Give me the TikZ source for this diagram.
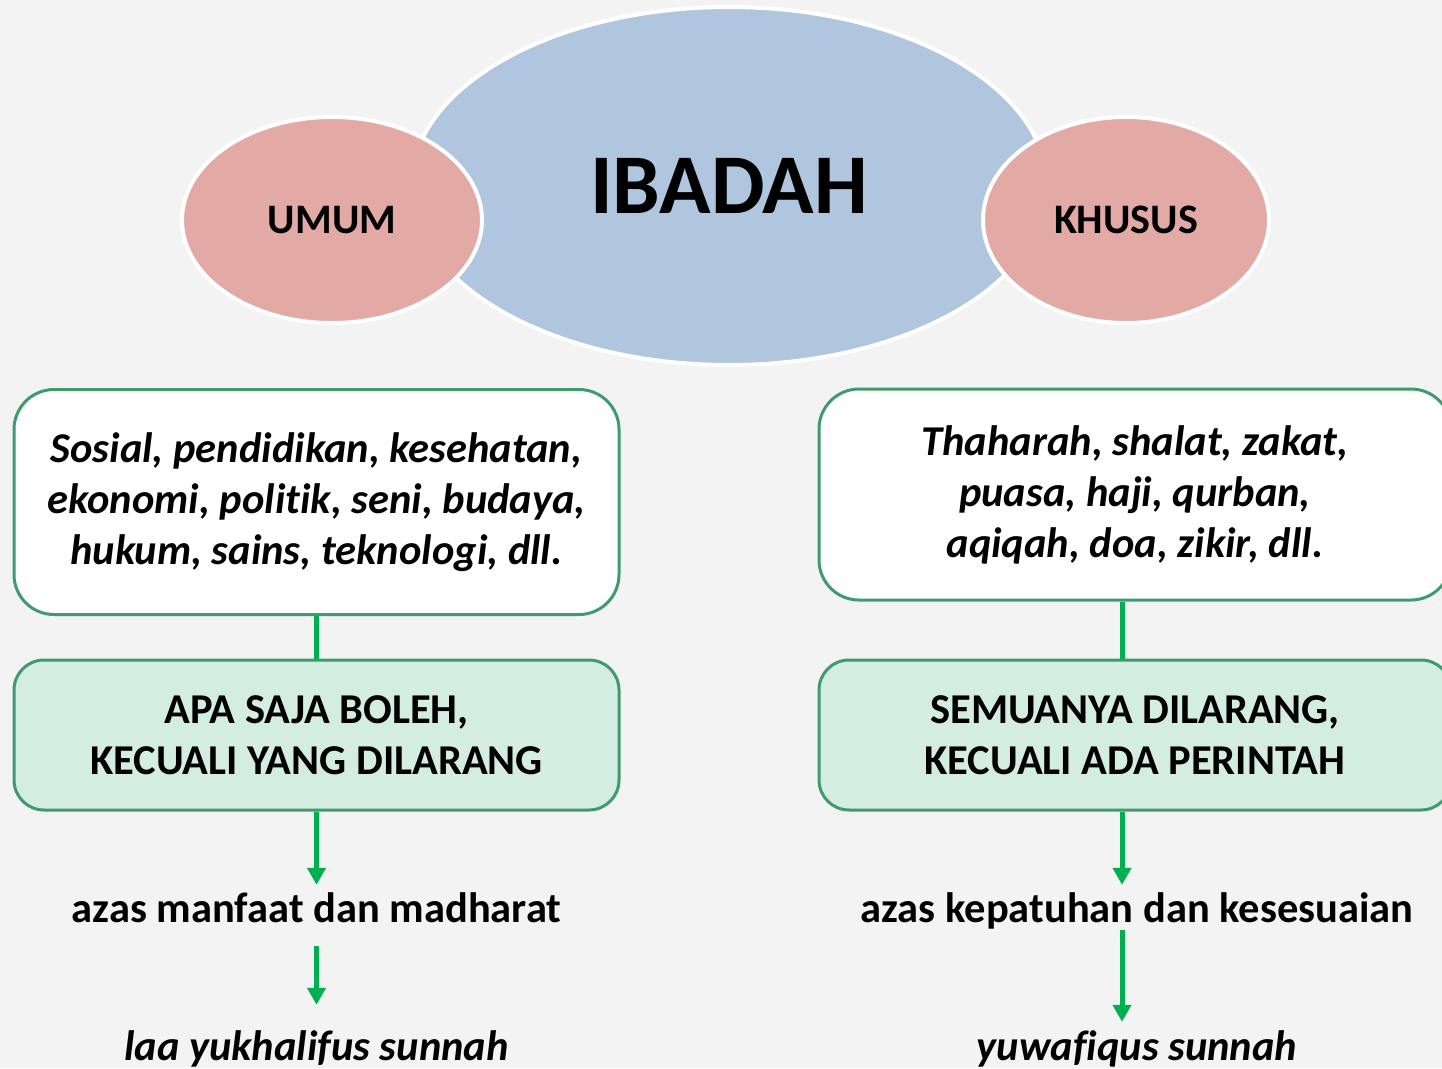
\documentclass[tikz,border=0pt]{standalone}
\usepackage{fontspec}
\setmainfont[Ligatures=NoCommon]{Carlito}
\usepackage{tikz}
\usetikzlibrary{shapes.geometric,arrows.meta,positioning}

\definecolor{bgcol}{HTML}{F3F3F3}
\definecolor{blueoval}{HTML}{B0C6DE}
\definecolor{pinkoval}{HTML}{E3A9A5}
\definecolor{boxline}{HTML}{3F9A6E}
\definecolor{boxfill}{HTML}{D4EDE2}
\definecolor{flowgreen}{HTML}{00B050}

\tikzset{
  oval/.style={ellipse, draw=white, line width=4pt, inner sep=0pt},
  listbox/.style={draw=boxline, line width=3pt, fill=white, rounded corners=40pt,
    align=center, font=\fontsize{42.5}{51}\selectfont\bfseries\itshape},
  rulebox/.style={draw=boxline, line width=3pt, fill=boxfill, rounded corners=30pt,
    align=center, font=\fontsize{42.5}{51}\selectfont\bfseries},
  azas/.style={inner sep=0pt, anchor=base, text height=30pt, text depth=8pt,
    font=\fontsize{42.5}{48}\selectfont\bfseries},
  link/.style={flowgreen, line width=5pt},
  flow/.style={link, -{Triangle[width=18pt,length=17pt]}},
}

\begin{document}
\begin{tikzpicture}[x=1pt, y=-1pt]
    % Background
    \useasboundingbox (0,0) rectangle (1442,1068);
    \clip (0,0) rectangle (1442,1068);
    \fill[bgcol] (0,0) rectangle (1442,1068);

    % Ovals
    \node[oval, fill=blueoval, minimum width=636pt, minimum height=358pt,
          font=\fontsize{85}{90}\selectfont\bfseries] (ibadah) at (729,186) {IBADAH};
    \node[oval, fill=pinkoval, minimum width=300pt, minimum height=206pt,
          font=\fontsize{42}{48}\selectfont\bfseries] (umum) at (332,220) {UMUM};
    \node[oval, fill=pinkoval, minimum width=286pt, minimum height=206pt,
          font=\fontsize{42}{48}\selectfont\bfseries] (khusus) at (1126,220) {KHUSUS};

    % Left column
    \node[listbox, minimum width=605pt, minimum height=225pt] (umumlist) at (316.5,502)
        {Sosial, pendidikan, kesehatan,\\ekonomi, politik, seni, budaya,\\hukum, sains, teknologi, dll.};
    \node[rulebox, minimum width=605pt, minimum height=150pt] (umumrule) at (316.5,735)
        {APA SAJA BOLEH,\\KECUALI YANG DILARANG};
    \node[azas] (umumazas) at (316.5,922) {azas manfaat dan madharat};
    \node[azas, font=\fontsize{42.5}{48}\selectfont\bfseries\itshape] (umumsunnah) at (316.5,1060)
        {laa yukhalifus sunnah};

    % Right column
    \node[listbox, minimum width=632pt, minimum height=211pt] (khususlist) at (1135,494.5)
        {Thaharah, shalat, zakat,\\puasa, haji, qurban,\\aqiqah, doa, zikir, dll.};
    \node[rulebox, minimum width=632pt, minimum height=150pt] (khususrule) at (1135,735)
        {SEMUANYA DILARANG,\\KECUALI ADA PERINTAH};
    \node[azas] (khususazas) at (1137,922) {azas kepatuhan dan kesesuaian};
    \node[azas, font=\fontsize{42.5}{48}\selectfont\bfseries\itshape] (khusussunnah) at (1137,1060)
        {yuwafiqus sunnah};
    \coordinate (rightaxis) at (1122,0);

    % Connectors
    \draw[link] (umumlist.south) -- (umumrule.north);
    \draw[flow, shorten >=7pt] (umumrule.south) -- (umumazas.north);
    \draw[flow, shorten <=16pt, shorten >=25pt] (umumazas.south) -- (umumsunnah.north);
    \draw[link] (khususlist.south -| rightaxis) -- (khususrule.north -| rightaxis);
    \draw[flow, shorten >=7pt] (khususrule.south -| rightaxis) -- (khususazas.north -| rightaxis);
    \draw[flow, shorten >=8pt] (khususazas.south -| rightaxis) -- (khusussunnah.north -| rightaxis);
\end{tikzpicture}
\end{document}
